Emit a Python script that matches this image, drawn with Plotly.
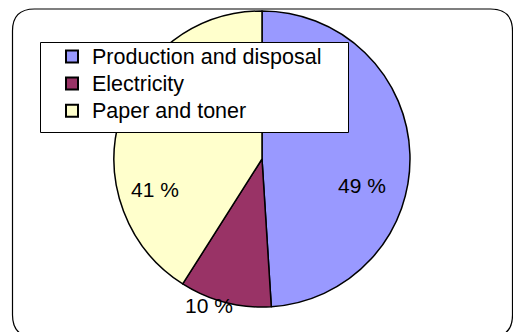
import plotly.graph_objects as go

categories = ["Production and disposal", "Electricity", "Paper and toner"]
values = [49, 10, 41]
colors = ["#9999FF", "#993366", "#FFFFCC"]
label_pos = [(362, 185), (209, 305), (155, 189)]  # pixel positions of % labels

W, H = 513, 332
FONT = "Liberation Sans, Arial, sans-serif"

cx, cy, r = 262, 159, 148

fig = go.Figure(go.Pie(
    labels=[f"<span style='font-size:21.5px'>{c}</span>" for c in categories],
    values=values,
    sort=False,
    direction="clockwise",
    rotation=0,
    marker=dict(colors=colors, line=dict(color="black", width=1.5)),
    textinfo="none",
    hoverinfo="percent",
    domain=dict(x=[(cx - r) / W, (cx + r) / W], y=[(H - cy - r) / H, (H - cy + r) / H]),
))

def px(x):
    return x / W

def py(y):
    return 1 - y / H

# outer rounded frame
x0, y0, x1, y1, rr = 12.5, 9, 512.5, 337, 22
path = (f"M {px(x0+rr)},{py(y0)} L {px(x1-rr)},{py(y0)} "
        f"Q {px(x1)},{py(y0)} {px(x1)},{py(y0+rr)} L {px(x1)},{py(y1-rr)} "
        f"Q {px(x1)},{py(y1)} {px(x1-rr)},{py(y1)} L {px(x0+rr)},{py(y1)} "
        f"Q {px(x0)},{py(y1)} {px(x0)},{py(y1-rr)} L {px(x0)},{py(y0+rr)} "
        f"Q {px(x0)},{py(y0)} {px(x0+rr)},{py(y0)} Z")

shapes = [
    dict(type="path", xref="paper", yref="paper", path=path,
         line=dict(color="black", width=1.2), layer="below"),
    dict(type="rect", xref="paper", yref="paper",
         x0=px(40.5), x1=px(348.5), y0=py(132.5), y1=py(42.5),
         fillcolor="white", line=dict(color="black", width=1), layer="above"),
]

annotations = []
for v, (lx, ly) in zip(values, label_pos):
    annotations.append(dict(
        text=f"{v} %", x=px(lx), y=py(ly), xref="paper", yref="paper",
        showarrow=False, xanchor="center", yanchor="middle",
        font=dict(family=FONT, size=21, color="black"),
    ))

fig.update_layout(
    width=W, height=H,
    margin=dict(l=0, r=0, t=0, b=0),
    paper_bgcolor="white",
    plot_bgcolor="white",
    shapes=shapes,
    annotations=annotations,
    showlegend=True,
    legend=dict(
        x=px(52), y=py(38), xanchor="left", yanchor="top",
        bgcolor="rgba(0,0,0,0)", borderwidth=0,
        font=dict(family=FONT, size=18.5, color="black"),
        itemsizing="constant",
        tracegroupgap=0,
    ),
)

fig.write_html("out.html")
